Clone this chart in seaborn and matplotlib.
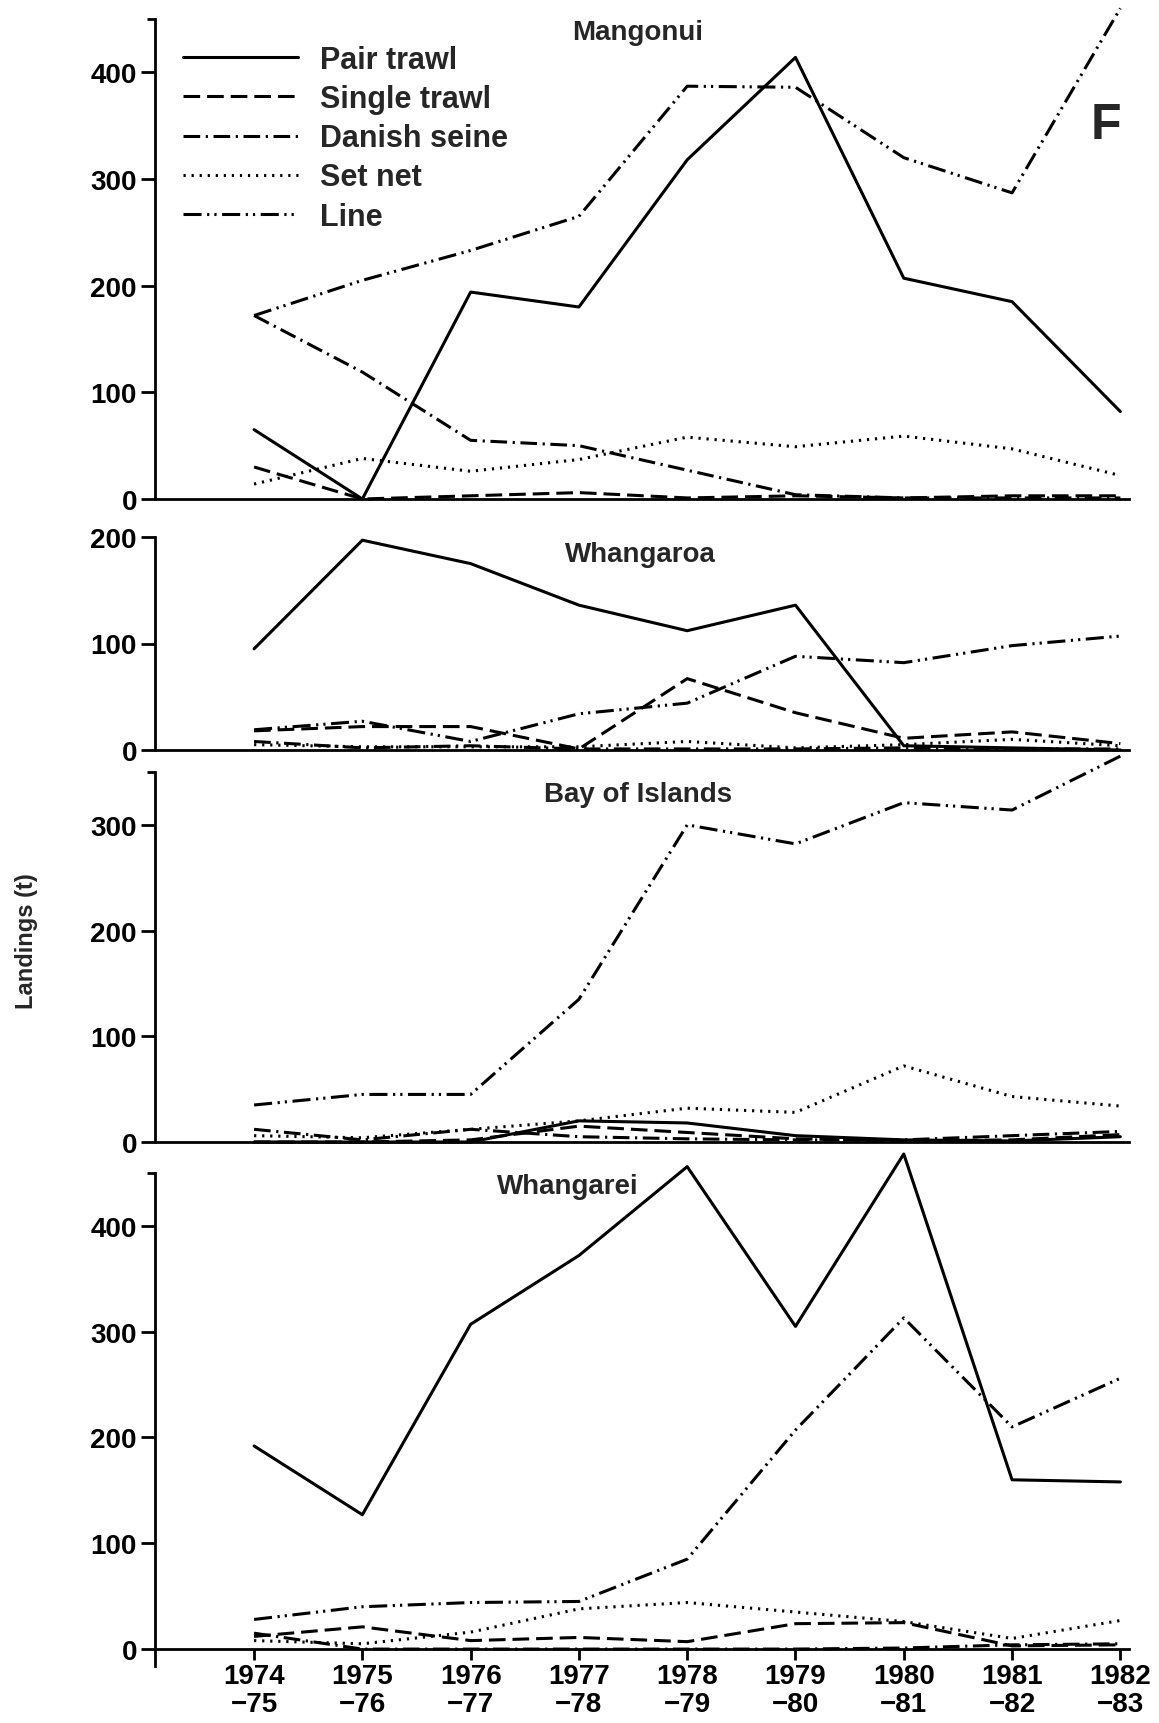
import pandas as pd
import seaborn as sns
import matplotlib.pyplot as plt
from matplotlib.lines import Line2D

# Data (landings in tonnes)
years = [1974, 1975, 1976, 1977, 1978, 1979, 1980, 1981, 1982]
season_labels = ["1974\n\u221275", "1975\n\u221276", "1976\n\u221277", "1977\n\u221278",
                 "1978\n\u221279", "1979\n\u221280", "1980\n\u221281", "1981\n\u221282",
                 "1982\n\u221283"]
gears = ["Pair trawl", "Single trawl", "Danish seine", "Set net", "Line"]
ports = ["Mangonui", "Whangaroa", "Bay of Islands", "Whangarei"]

mangonui_pair = [65, 0, 194, 180, 318, 414, 207, 185, 82]
mangonui_single = [30, 0, 3, 6, 1, 3, 1, 3, 3]
mangonui_danish = [172, 119, 55, 50, 27, 4, 1, 1, 1]
mangonui_setnet = [14, 38, 26, 37, 58, 49, 59, 47, 22]
mangonui_line = [172, 205, 233, 265, 387, 386, 320, 287, 460]

whangaroa_pair = [95, 197, 175, 136, 112, 136, 4, 2, 0]
whangaroa_single = [18, 22, 22, 1, 67, 35, 11, 17, 6]
whangaroa_danish = [8, 2, 4, 1, 1, 1, 2, 1, 1]
whangaroa_setnet = [5, 3, 3, 3, 8, 2, 5, 10, 4]
whangaroa_line = [19, 27, 8, 34, 44, 88, 82, 98, 107]

bay_pair = [0, 0, 0, 20, 18, 6, 2, 1, 5]
bay_single = [0, 0, 2, 15, 9, 3, 1, 2, 7]
bay_danish = [12, 2, 12, 5, 3, 2, 2, 6, 10]
bay_setnet = [6, 4, 12, 20, 32, 28, 72, 43, 34]
bay_line = [35, 45, 45, 135, 300, 282, 321, 314, 365]

whangarei_pair = [192, 127, 307, 372, 456, 305, 468, 160, 158]
whangarei_single = [12, 21, 8, 11, 7, 24, 25, 3, 4]
whangarei_danish = [15, 0, 0, 0, 0, 0, 1, 4, 5]
whangarei_setnet = [8, 5, 16, 38, 44, 35, 26, 10, 27]
whangarei_line = [28, 40, 44, 45, 85, 207, 313, 210, 256]

series = {
    "Mangonui": [mangonui_pair, mangonui_single, mangonui_danish, mangonui_setnet, mangonui_line],
    "Whangaroa": [whangaroa_pair, whangaroa_single, whangaroa_danish, whangaroa_setnet, whangaroa_line],
    "Bay of Islands": [bay_pair, bay_single, bay_danish, bay_setnet, bay_line],
    "Whangarei": [whangarei_pair, whangarei_single, whangarei_danish, whangarei_setnet, whangarei_line],
}

rows = []
for port in ports:
    for gear, vals in zip(gears, series[port]):
        for yr, v in zip(years, vals):
            rows.append({"port": port, "gear": gear, "year": yr, "landings": v})
df = pd.DataFrame(rows)

sns.set_style("ticks")
plt.rcParams["font.family"] = ["Liberation Sans", "DejaVu Sans"]
plt.rcParams["font.weight"] = "bold"
plt.rcParams["lines.scale_dashes"] = False

# dash patterns in points
dash_styles = {
    "Pair trawl": "",
    "Single trawl": (12, 5),
    "Danish seine": (12, 4, 1.6, 4),
    "Set net": (1.6, 4.2),
    "Line": (13, 4, 1.6, 3.6, 1.6, 4),
}
black = {g: "black" for g in gears}

W, H = 1159, 1724
fig = plt.figure(figsize=(W / 100, H / 100), dpi=100)


def px_axes(left, top, right, bottom):
    return fig.add_axes([left / W, 1 - bottom / H, (right - left) / W, (bottom - top) / H])


boxes = [(155, 20, 1129, 500), (155, 538, 1129, 751), (155, 773, 1129, 1143), (155, 1174, 1129, 1667)]
ylims = [(0, 450), (0, 200), (0, 350), (-16, 450)]
yticks = [[0, 100, 200, 300, 400], [0, 100, 200], [0, 100, 200, 300], [0, 100, 200, 300, 400]]
top_ticks = [450, None, 350, 450]
title_pos = [(638, 33), (640, 555), (638, 795), (568, 1187)]

axes = []
for i, port in enumerate(ports):
    ax = px_axes(*boxes[i])
    axes.append(ax)
    sns.lineplot(data=df[df["port"] == port], x="year", y="landings",
                 hue="gear", style="gear", hue_order=gears, style_order=gears,
                 palette=black, dashes=dash_styles, linewidth=2.2,
                 errorbar=None, legend=False, clip_on=False, ax=ax)
    ax.set_xlim(1973.085, 1982.08)
    ax.set_ylim(*ylims[i])
    ax.set_xlabel("")
    ax.set_ylabel("")
    for s in ["top", "right"]:
        ax.spines[s].set_visible(False)
    for s in ["left", "bottom"]:
        ax.spines[s].set_linewidth(2)
        ax.spines[s].set_color("black")
    ax.set_yticks(yticks[i])
    if top_ticks[i] is not None:
        ax.set_yticks([top_ticks[i]], minor=True)
    ax.tick_params(axis="y", which="major", length=10, width=2, labelsize=20, pad=3, colors="black")
    ax.tick_params(axis="y", which="minor", length=6, width=2, colors="black")
    if i < 3:
        ax.set_xticks([])
    else:
        ax.spines["bottom"].set_position(("data", 0))
        ax.set_xticks(years)
        ax.set_xticklabels(season_labels, linespacing=1.1)
        ax.tick_params(axis="x", length=8, width=2, labelsize=20, pad=2, colors="black")
    ax.patch.set_alpha(0)
    tx, ty = title_pos[i]
    fig.text(tx / W, 1 - ty / H, port, ha="center", va="center", fontsize=20, fontweight="bold")

handles = [Line2D([], [], color="black", lw=2.2,
                  linestyle="-" if dash_styles[g] == "" else (0, dash_styles[g])) for g in gears]
axes[0].legend(handles, gears, loc="upper left", bbox_to_anchor=(183 / W, 1 - 46 / H),
               bbox_transform=fig.transFigure, frameon=False, fontsize=22,
               handlelength=3.75, handletextpad=0.75, labelspacing=0.3,
               borderpad=0, borderaxespad=0)

fig.text(1106 / W, 1 - 126 / H, "F", ha="center", va="center", fontsize=36, fontweight="bold")
fig.text(27 / W, 1 - 941 / H, "Landings (t)", ha="center", va="center", rotation=90,
         fontsize=17, fontweight="bold")

fig.savefig("out.png", dpi=100)
